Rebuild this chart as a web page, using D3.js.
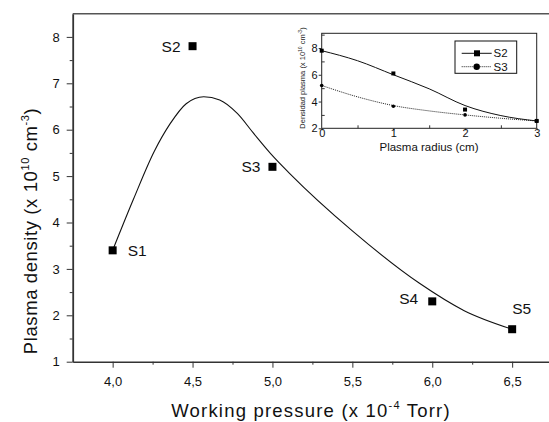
<!DOCTYPE html>
<html>
<head>
<meta charset="utf-8">
<script src="https://cdn.jsdelivr.net/npm/d3@7"></script>
<style>
  body { margin: 0; background: #fff; }
  svg { display: block; font-family: "Liberation Sans", Arial, sans-serif; }
  .axis path, .axis line { stroke: #333; }
</style>
</head>
<body>
<div class="chart"></div>
<script>
// main chart data
var samples = ['S1', 'S2', 'S3', 'S4', 'S5'];
var pressure = [4.0, 4.5, 5.0, 6.0, 6.5];
var density = [3.4, 7.8, 5.2, 2.3, 1.7];

// fitted curve
var fitX = [4.0, 4.13, 4.26, 4.36, 4.46, 4.57, 4.67, 4.78, 4.88, 4.99, 5.11, 5.5, 5.92, 6.2, 6.5];
var fitY = [3.4, 4.5, 5.53, 6.13, 6.56, 6.71, 6.64, 6.35, 5.93, 5.48, 5.05, 3.82, 2.69, 2.1, 1.7];

var xTicks = [4.0, 4.5, 5.0, 5.5, 6.0, 6.5];
var yTicks = [1, 2, 3, 4, 5, 6, 7, 8];

// inset data
var radius = [0, 1, 2, 3];
var insetS2 = [7.8, 6.1, 3.4, 2.55];
var insetS3 = [5.2, 3.65, 3.0, 2.55];
var fitR = [0, 0.5, 1, 1.5, 2, 2.5, 3];
var fitS2 = [7.8, 7.05, 6.0, 4.95, 3.7, 2.95, 2.55];
var fitS3 = [5.2, 4.35, 3.7, 3.3, 3.0, 2.75, 2.55];
var insetXTicks = [0, 1, 2, 3];
var insetYTicks = [2, 4, 6, 8];

var width = 549, height = 422;

var svg = d3.select('.chart').append('svg')
  .attr('width', width)
  .attr('height', height);

var x = d3.scaleLinear().domain([3.75, 6.75]).range([72.7, 552.1]);
var y = d3.scaleLinear().domain([1, 8.5]).range([361.7, 13.7]);

var comma = function(d) { return d3.format('.1f')(d).replace('.', ','); };

// top frame line
svg.append('line')
  .attr('x1', x(3.75)).attr('x2', width)
  .attr('y1', y(8.5)).attr('y2', y(8.5))
  .attr('stroke', '#555').attr('stroke-width', 1.6);

// minor ticks
svg.append('g').attr('class', 'axis')
  .attr('transform', 'translate(0,' + y(1) + ')')
  .call(d3.axisBottom(x).tickValues(d3.range(4.25, 6.6, 0.5)).tickSize(3).tickFormat(''))
  .call(function(g) { g.select('.domain').remove(); });
svg.append('g').attr('class', 'axis')
  .attr('transform', 'translate(' + x(3.75) + ',0)')
  .call(d3.axisLeft(y).tickValues(d3.range(1.5, 8.1, 1)).tickSize(3).tickFormat(''))
  .call(function(g) { g.select('.domain').remove(); });

var xAxis = svg.append('g').attr('class', 'axis')
  .attr('transform', 'translate(0,' + y(1) + ')')
  .call(d3.axisBottom(x).tickValues(xTicks).tickSize(6).tickSizeOuter(0).tickPadding(9).tickFormat(comma));
xAxis.select('.domain').attr('stroke-width', 1.6);
xAxis.selectAll('text').attr('font-size', 13).attr('fill', '#111').attr('font-family', null);

var yAxis = svg.append('g').attr('class', 'axis')
  .attr('transform', 'translate(' + x(3.75) + ',0)')
  .call(d3.axisLeft(y).tickValues(yTicks).tickSize(6).tickSizeOuter(0).tickPadding(7).tickFormat(d3.format('d')));
yAxis.select('.domain').attr('stroke-width', 1.8);
yAxis.selectAll('text').attr('font-size', 13).attr('fill', '#111').attr('font-family', null);

// axis titles
var xt = svg.append('text')
  .attr('x', 311).attr('y', 417)
  .attr('text-anchor', 'middle')
  .attr('font-size', 18.5).attr('letter-spacing', 1.2).attr('fill', '#111');
xt.append('tspan').text('Working pressure (x 10');
xt.append('tspan').attr('dy', -8).attr('font-size', 11).text('-4');
xt.append('tspan').attr('dy', 8).text(' Torr)');

var yt = svg.append('text')
  .attr('transform', 'translate(37,231) rotate(-90)')
  .attr('text-anchor', 'middle')
  .attr('font-size', 18.5).attr('letter-spacing', 0.6).attr('fill', '#111');
yt.append('tspan').text('Plasma density (x 10');
yt.append('tspan').attr('dy', -8).attr('font-size', 11).text('10');
yt.append('tspan').attr('dy', 8).text(' cm');
yt.append('tspan').attr('dy', -8).attr('font-size', 11).text('-3');
yt.append('tspan').attr('dy', 8).text(')');

// fitted curve
var fit = fitX.map(function(d, i) { return {x: d, y: fitY[i]}; });
svg.append('path')
  .datum(fit)
  .attr('fill', 'none')
  .attr('stroke', '#111')
  .attr('stroke-width', 1.1)
  .attr('d', d3.line()
    .x(function(d) { return x(d.x); })
    .y(function(d) { return y(d.y); })
    .curve(d3.curveMonotoneX));

// points
var pts = samples.map(function(s, i) { return {name: s, x: pressure[i], y: density[i]}; });
svg.selectAll('.pt').data(pts).enter().append('rect')
  .attr('class', 'pt')
  .attr('x', function(d) { return x(d.x) - 4; })
  .attr('y', function(d) { return y(d.y) - 4; })
  .attr('width', 8).attr('height', 8)
  .attr('fill', '#000');

// point labels (offsets in px)
var labelOffset = {S1: [15, 0], S2: [-31, 0], S3: [-31, 0], S4: [-33, -3], S5: [0, -21]};
svg.selectAll('.lbl').data(pts).enter().append('text')
  .attr('class', 'lbl')
  .attr('x', function(d) { return x(d.x) + labelOffset[d.name][0]; })
  .attr('y', function(d) { return y(d.y) + labelOffset[d.name][1] + 5.5; })
  .attr('font-size', 15.5).attr('fill', '#111')
  .text(function(d) { return d.name; });

// ---------- inset ----------
var ix = d3.scaleLinear().domain([0, 3]).range([321.7, 536.7]);
var iy = d3.scaleLinear().domain([2, 9.1]).range([128.3, 33.3]);

svg.append('rect')
  .attr('x', ix(0)).attr('y', iy(9.1))
  .attr('width', ix(3) - ix(0)).attr('height', iy(2) - iy(9.1))
  .attr('fill', 'none').attr('stroke', '#222').attr('stroke-width', 1);

svg.append('g').attr('class', 'axis')
  .attr('transform', 'translate(0,' + iy(2) + ')')
  .call(d3.axisTop(ix).tickValues([0.5, 1.5, 2.5]).tickSize(3).tickFormat(''))
  .call(function(g) { g.select('.domain').remove(); });
svg.append('g').attr('class', 'axis')
  .attr('transform', 'translate(' + ix(0) + ',0)')
  .call(d3.axisRight(iy).tickValues([3, 5, 7, 9]).tickSize(3).tickFormat(''))
  .call(function(g) { g.select('.domain').remove(); });

var ixAxis = svg.append('g').attr('class', 'axis')
  .attr('transform', 'translate(0,' + iy(2) + ')')
  .call(d3.axisBottom(ix).tickValues(insetXTicks).tickSize(2).tickSizeOuter(0).tickPadding(0).tickFormat(d3.format('d')));
ixAxis.select('.domain').remove();
ixAxis.selectAll('text').attr('font-size', 11).attr('fill', '#111').attr('font-family', null)
  .attr('y', 1).attr('dy', '0.71em');

var iyAxis = svg.append('g').attr('class', 'axis')
  .attr('transform', 'translate(' + ix(0) + ',0)')
  .call(d3.axisLeft(iy).tickValues(insetYTicks).tickSize(3).tickSizeOuter(0).tickPadding(1).tickFormat(d3.format('d')));
iyAxis.select('.domain').remove();
iyAxis.selectAll('text').attr('font-size', 11).attr('fill', '#111').attr('font-family', null);

svg.append('text')
  .attr('x', 429).attr('y', 151)
  .attr('text-anchor', 'middle')
  .attr('font-size', 11.5).attr('fill', '#111')
  .text('Plasma radius (cm)');

var iyt = svg.append('text')
  .attr('transform', 'translate(305,78) rotate(-90)')
  .attr('text-anchor', 'middle')
  .attr('font-size', 7.5).attr('fill', '#222');
iyt.append('tspan').text('Densidad plasma (x 10');
iyt.append('tspan').attr('dy', -3).attr('font-size', 5).text('10');
iyt.append('tspan').attr('dy', 3).text(' cm');
iyt.append('tspan').attr('dy', -3).attr('font-size', 5).text('-3');
iyt.append('tspan').attr('dy', 3).text(')');

var iline = d3.line()
  .x(function(d, i) { return ix(fitR[i]); })
  .y(function(d) { return iy(d); })
  .curve(d3.curveMonotoneX);

svg.append('path').datum(fitS2)
  .attr('fill', 'none').attr('stroke', '#111').attr('stroke-width', 1)
  .attr('d', iline);
svg.append('path').datum(fitS3)
  .attr('fill', 'none').attr('stroke', '#222').attr('stroke-width', 1)
  .attr('stroke-dasharray', '1,1')
  .attr('d', iline);

svg.selectAll('.is2').data(insetS2).enter().append('rect')
  .attr('class', 'is2')
  .attr('x', function(d, i) { return ix(radius[i]) - 2; })
  .attr('y', function(d) { return iy(d) - 2; })
  .attr('width', 4).attr('height', 4)
  .attr('fill', '#000');
svg.selectAll('.is3').data(insetS3).enter().append('circle')
  .attr('class', 'is3')
  .attr('cx', function(d, i) { return ix(radius[i]); })
  .attr('cy', function(d) { return iy(d); })
  .attr('r', 1.8)
  .attr('fill', '#000');

// legend
var legend = svg.append('g').attr('transform', 'translate(455,41)');
legend.append('rect')
  .attr('width', 61.7).attr('height', 32.3)
  .attr('fill', '#fff').attr('stroke', '#111').attr('stroke-width', 1);
legend.append('line').attr('x1', 6.7).attr('x2', 36.7).attr('y1', 12.3).attr('y2', 12.3)
  .attr('stroke', '#111').attr('stroke-width', 1);
legend.append('rect').attr('x', 19).attr('y', 9.3).attr('width', 6).attr('height', 6).attr('fill', '#000');
legend.append('line').attr('x1', 6.7).attr('x2', 36.7).attr('y1', 25.7).attr('y2', 25.7)
  .attr('stroke', '#222').attr('stroke-width', 1).attr('stroke-dasharray', '1,1');
legend.append('circle').attr('cx', 21.7).attr('cy', 25.7).attr('r', 3.2).attr('fill', '#000');
legend.append('text').attr('x', 38.5).attr('y', 16.3).attr('font-size', 11.5).attr('fill', '#111').text('S2');
legend.append('text').attr('x', 38.5).attr('y', 29.7).attr('font-size', 11.5).attr('fill', '#111').text('S3');
</script>
</body>
</html>
